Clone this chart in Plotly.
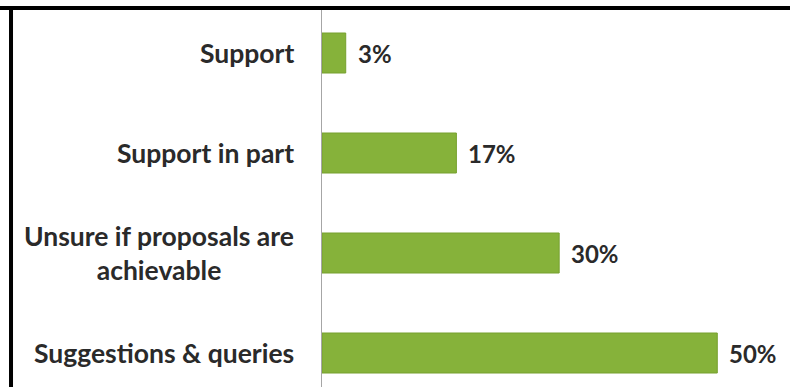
import plotly.graph_objects as go

# Survey response shares (percent), listed top to bottom
categories = [
    "Support",
    "Support in part",
    "Unsure if proposals are<br>achievable",
    "Suggestions & queries",
]
values = [3, 17, 30, 50]

bar_color = "#86b23a"
text_color = "#2a2a2a"
cat_font = dict(family="Lato", size=26.5, color=text_color, weight="bold")
val_font = dict(family="Lato", size=24, color=text_color, weight="bold")

fig = go.Figure(
    go.Bar(
        x=values,
        y=categories,
        orientation="h",
        width=0.4,
        marker=dict(color=bar_color, line=dict(color="#76a02e", width=1)),
        hoverinfo="skip",
    )
)

# Category labels, centred line by line to the left of the axis
for cat in categories:
    fig.add_annotation(
        x=0, xref="paper", y=cat, yref="y",
        text=cat, showarrow=False,
        xanchor="right", yanchor="middle", align="center",
        xshift=-26, font=cat_font,
    )

# Percentage labels just past the end of each bar
for cat, v in zip(categories, values):
    fig.add_annotation(
        x=v, y=cat, text=f"{v}%", showarrow=False,
        xanchor="left", yanchor="middle", xshift=10,
        font=val_font,
    )

# Frame along the top and left edges
fig.add_shape(type="line", xref="paper", yref="paper",
              x0=-1.0, x1=1.05, y0=1.005, y1=1.005,
              line=dict(color="black", width=4))
fig.add_shape(type="line", xref="paper", yref="paper",
              x0=-0.6645, x1=-0.6645, y0=1.01, y1=-0.05,
              line=dict(color="black", width=4))

fig.update_layout(
    width=790, height=387,
    margin=dict(l=322, r=0, t=10, b=0),
    paper_bgcolor="white", plot_bgcolor="white",
    showlegend=False,
    xaxis=dict(range=[0, 59.2], visible=False, fixedrange=True),
    yaxis=dict(
        range=[3.34, -0.43],
        showticklabels=False, ticks="",
        showgrid=False, zeroline=False,
        showline=True, linecolor="#a6a6a6", linewidth=1,
        fixedrange=True,
    ),
)

fig.write_html("out.html")
